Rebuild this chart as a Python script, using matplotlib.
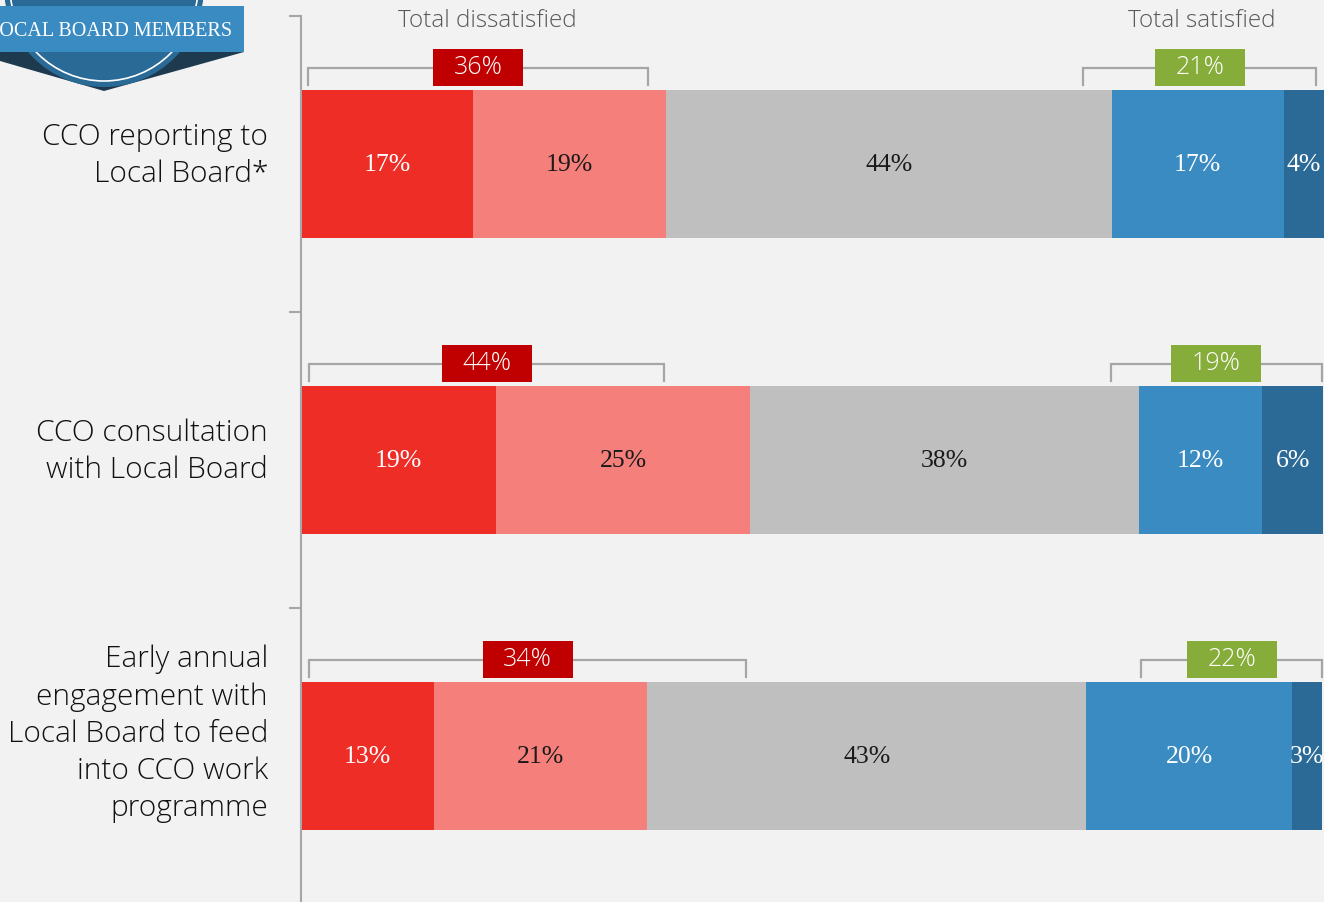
import matplotlib
matplotlib.use("Agg")
import matplotlib.pyplot as plt
from matplotlib.patches import Rectangle, Circle, Polygon

# ----------------------------
#   Data
# ----------------------------
categories = [
    "CCO reporting to\nLocal Board*",
    "CCO consultation\nwith Local Board",
    "Early annual\nengagement with\nLocal Board to feed\ninto CCO work\nprogramme",
]
very_dissatisfied = [17.0, 19.3, 13.1]
dissatisfied = [19.1, 25.1, 21.1]
neutral = [44.0, 38.4, 43.4]
satisfied = [17.0, 12.2, 20.3]
very_satisfied = [4.0, 6.0, 3.0]
total_dissatisfied = [36, 44, 34]
total_satisfied = [21, 19, 22]

# bracket spans above each bar (in % units, as drawn in the original)
dis_brackets = [(0.7, 34.3), (0.8, 35.9), (0.8, 44.0)]
sat_brackets = [(77.3, 100.3), (80.0, 100.9), (83.0, 100.9)]

# ----------------------------
#   Style
# ----------------------------
BG = "#F2F2F2"
seg_colors = ["#EE2D27", "#F57F7B", "#BFBFBF", "#3A8BC2", "#2B6A96"]
seg_text = ["white", "#1a1a1a", "#1a1a1a", "white", "white"]
AX_GRAY = "#A6A6A6"
SANS = ["Open Sans", "DejaVu Sans"]
SERIF = ["Liberation Serif", "DejaVu Serif"]

W, H = 1324, 903
fig = plt.figure(figsize=(W / 100, H / 100), dpi=100, facecolor=BG)

ax_left, ax_top = 301, 17
ax = fig.add_axes([ax_left / W, 0, (W - ax_left) / W, (H - ax_top) / H])
ax.set_facecolor(BG)

px_per_unit = 10.12
ax.set_xlim(0, (W - ax_left) / px_per_unit)
band_px = 296
ax.set_ylim(2.5 - 2 / band_px, -0.5)

y = list(range(len(categories)))
bar_h = 0.5
series = [very_dissatisfied, dissatisfied, neutral, satisfied, very_satisfied]
left = [0.0] * len(categories)
for vals, col, tcol in zip(series, seg_colors, seg_text):
    ax.barh(y, vals, left=left, height=bar_h, color=col, edgecolor="none", zorder=2)
    for i, v in enumerate(vals):
        ax.text(left[i] + v / 2, y[i], f"{int(round(v))}%", ha="center", va="center",
                color=tcol, fontsize=18.5, family=SERIF, zorder=3)
    left = [l + v for l, v in zip(left, vals)]

# axis: only left spine with ticks at band boundaries
for s in ["top", "right", "bottom"]:
    ax.spines[s].set_visible(False)
ax.spines["left"].set_color(AX_GRAY)
ax.spines["left"].set_linewidth(1.5)
ax.set_xticks([])
ax.set_yticks([-0.5, 0.5, 1.5])
ax.set_yticklabels([])
ax.tick_params(axis="y", length=9, width=1.5, color=AX_GRAY, direction="out")

# category labels
label_dy = [-9, -9, -23]
for i, cat in enumerate(categories):
    ax.text(-33 / px_per_unit, y[i] + label_dy[i] / band_px, cat, ha="right", va="center",
            multialignment="right", fontsize=21.5, family=SANS, fontweight="light",
            color="#111111", linespacing=1.34, clip_on=False)

# brackets + total boxes
line_off = bar_h / 2 + 22 / band_px
tip_off = bar_h / 2 + 5 / band_px
box_w = 90 / px_per_unit
box_h = 37 / band_px


def bracket(x0, x1, yc, total, box_color):
    yl = yc - line_off
    yt = yc - tip_off
    ax.plot([x0, x0, x1, x1], [yt, yl, yl, yt], color=AX_GRAY, lw=1.6,
            solid_joinstyle="miter", zorder=2, clip_on=False)
    xm = (x0 + x1) / 2
    ax.add_patch(Rectangle((xm - box_w / 2, yl - box_h / 2 - 1 / band_px), box_w, box_h,
                           facecolor=box_color, edgecolor="none", zorder=3, clip_on=False))
    ax.text(xm, yl - 1 / band_px, f"{total}%", ha="center", va="center", color="white",
            fontsize=18, family=SANS, fontweight="light", zorder=4)


for i in range(len(categories)):
    bracket(*dis_brackets[i], y[i], total_dissatisfied[i], "#C00000")
    bracket(*sat_brackets[i], y[i], total_satisfied[i], "#86AC3A")

# headers
ax.text((487 - ax_left) / px_per_unit, -0.5 + 4 / band_px, "Total dissatisfied",
        ha="center", va="center", fontsize=17.5, family=SANS, fontweight="light",
        color="#595959", clip_on=False)
ax.text((1202 - ax_left) / px_per_unit, -0.5 + 4 / band_px, "Total satisfied",
        ha="center", va="center", fontsize=17.5, family=SANS, fontweight="light",
        color="#595959", clip_on=False)

# ----------------------------
#   Badge in the top-left corner (pixel coords)
# ----------------------------
bx = fig.add_axes([0, 0, 1, 1], zorder=5)
bx.set_xlim(0, W)
bx.set_ylim(H, 0)
bx.axis("off")
bx.patch.set_alpha(0)
bx.add_patch(Polygon([(0, 53), (244, 53), (104, 92), (0, 62)], closed=True,
                     facecolor="#1E3A4F", edgecolor="none"))
bx.add_patch(Circle((104, -12), 100, facecolor="#2A6A96", edgecolor="none"))
bx.add_patch(Circle((104, -12), 94, facecolor="none", edgecolor="white", lw=1.2))
bx.add_patch(Rectangle((0, 7), 244, 46, facecolor="#3A8BC2", edgecolor="none"))
bx.text(232, 31, "LOCAL BOARD MEMBERS", ha="right", va="center", color="white",
        fontsize=14.5, family=SERIF)

fig.savefig("out.png", dpi=100, facecolor=BG)
